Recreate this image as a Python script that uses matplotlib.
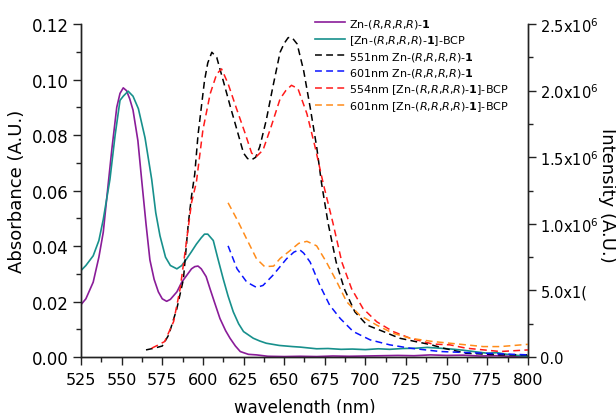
import numpy as np
import matplotlib
matplotlib.use("Agg")
import matplotlib.pyplot as plt
from matplotlib.ticker import MultipleLocator, FixedLocator, FixedFormatter

# absorbance, Zn-(R,R,R,R)-1
abs1_wl = [525, 528, 532.5, 536, 538.7, 541.8, 544, 547, 549, 551, 553, 555, 557, 560,
           562.3, 565, 567.4, 570, 572.6, 575, 577.7, 580, 584, 587, 590, 593, 595, 597,
           599, 602, 604.4, 607, 610.5, 614, 616.7, 620, 623, 628, 633, 640, 650, 660,
           670, 680, 690, 700, 710, 720, 730, 740, 750, 760, 770, 780, 790, 800]
abs1 = [0.0189, 0.021, 0.027, 0.036, 0.045, 0.0627, 0.075, 0.090, 0.095, 0.097, 0.096,
        0.093, 0.089, 0.078, 0.064, 0.048, 0.035, 0.028, 0.0235, 0.021, 0.0201, 0.0208,
        0.0235, 0.027, 0.0294, 0.0318, 0.0326, 0.0328, 0.0318, 0.029, 0.0246, 0.020,
        0.0139, 0.0095, 0.0068, 0.0040, 0.0020, 0.0010, 0.0008, 0.0003, 0.0002, 0.0003,
        0.0002, 0.0004, 0.0003, 0.0004, 0.0005, 0.0006, 0.0005, 0.0008, 0.0006, 0.0007,
        0.0004, 0.0005, 0.0003, 0.0004]

# absorbance, [Zn-(R,R,R,R)-1]-BCP
abs2_wl = [525, 528, 532.5, 536, 538.7, 542.8, 546, 549, 551, 554, 557, 560.3, 564.4,
           568.5, 571, 573.6, 577, 580, 584, 587, 590, 593, 596, 599, 601, 603, 606.4,
           609, 612.5, 615.5, 618.7, 622, 625, 631, 635, 639, 647, 655, 660, 665, 670,
           677, 685, 692, 700, 708, 715, 723, 731, 738, 746, 753, 760, 768, 775, 781,
           787, 794, 800]
abs2 = [0.0312, 0.0330, 0.0365, 0.042, 0.0496, 0.064, 0.080, 0.0925, 0.094, 0.0958,
        0.094, 0.0895, 0.079, 0.064, 0.052, 0.0437, 0.036, 0.033, 0.0318, 0.033, 0.0354,
        0.038, 0.0407, 0.043, 0.0443, 0.0443, 0.042, 0.036, 0.0282, 0.022, 0.0163, 0.012,
        0.0092, 0.0068, 0.0058, 0.0050, 0.0042, 0.0038, 0.0036, 0.0033, 0.0030, 0.0031,
        0.0028, 0.0029, 0.0027, 0.0030, 0.0028, 0.0031, 0.0032, 0.0035, 0.0032, 0.0029,
        0.0025, 0.0019, 0.0014, 0.0016, 0.0010, 0.0006, 0.0003]

# emission, intensity in units of 1e6
em551_wl = [565, 570, 575, 579, 584, 588, 591, 593, 595, 597, 601, 603, 605.5, 608.5,
            612.5, 617, 621, 625, 627.5, 630, 632.5, 635, 639, 643, 647.5, 650, 652.5,
            655, 658, 662, 666, 670, 673, 677, 682, 687, 693.5, 701, 711, 721, 731.5,
            740, 748, 762, 783, 800]
em551 = [0.054, 0.067, 0.083, 0.167, 0.365, 0.583, 1.000, 1.208, 1.375, 1.667, 2.075,
         2.208, 2.288, 2.250, 2.075, 1.875, 1.704, 1.531, 1.490, 1.481, 1.500, 1.579,
         1.779, 2.025, 2.288, 2.354, 2.398, 2.396, 2.350, 2.150, 1.875, 1.579, 1.306,
         1.008, 0.713, 0.513, 0.340, 0.240, 0.192, 0.142, 0.115, 0.094, 0.067, 0.029,
         0.017, 0.017]

em601_wl = [615.5, 621, 627, 633, 637, 643, 651.5, 656, 659.5, 662, 666, 672, 678,
            684.5, 692.5, 703, 715, 727.5, 746, 772.5, 800]
em601 = [0.835, 0.663, 0.563, 0.523, 0.538, 0.613, 0.738, 0.788, 0.806, 0.781, 0.713,
         0.538, 0.390, 0.290, 0.192, 0.129, 0.092, 0.067, 0.042, 0.029, 0.017]

em554b_wl = [568.5, 572, 576.5, 582, 586, 589, 593, 596, 600, 604.5, 608.5, 611.5,
             615.5, 621, 626, 630, 633, 637, 642, 647.5, 651, 654.5, 658.5, 664, 669,
             674, 680, 685.5, 691.5, 698.5, 707, 717, 727.5, 741.5, 752, 762, 783, 800]
em554b = [0.067, 0.088, 0.117, 0.267, 0.513, 0.785, 1.158, 1.313, 1.704, 1.977, 2.125,
          2.163, 2.052, 1.854, 1.679, 1.531, 1.506, 1.554, 1.730, 1.938, 2.000, 2.040,
          2.015, 1.827, 1.579, 1.306, 1.008, 0.713, 0.513, 0.365, 0.265, 0.192, 0.142,
          0.098, 0.092, 0.067, 0.042, 0.054]

em601b_wl = [615.5, 621, 627, 633, 638, 643.5, 647.5, 653.5, 659, 664, 670, 676, 682.5,
             688.5, 696.5, 707, 717, 727.5, 741.5, 762, 772.5, 783, 800]
em601b = [1.158, 1.033, 0.885, 0.738, 0.679, 0.683, 0.740, 0.798, 0.854, 0.869, 0.835,
          0.713, 0.563, 0.415, 0.315, 0.240, 0.179, 0.142, 0.117, 0.092, 0.079, 0.079,
          0.096]

labels = [r"Zn-($R$,$R$,$R$,$R$)-$\mathbf{1}$",
          r"[Zn-($R$,$R$,$R$,$R$)-$\mathbf{1}$]-BCP",
          r"551nm Zn-($R$,$R$,$R$,$R$)-$\mathbf{1}$",
          r"601nm Zn-($R$,$R$,$R$,$R$)-$\mathbf{1}$",
          r"554nm [Zn-($R$,$R$,$R$,$R$)-$\mathbf{1}$]-BCP",
          r"601nm [Zn-($R$,$R$,$R$,$R$)-$\mathbf{1}$]-BCP"]

plt.rcParams['mathtext.fontset'] = 'dejavusans'

fig = plt.figure(figsize=(6.16, 4.14), dpi=100)
ax = fig.add_axes([0.1315, 0.135, 0.7255, 0.8046])
ax2 = ax.twinx()

dash = (0, (4.5, 2.8))
h1, = ax.plot(abs1_wl, abs1, color='#8a1c99', lw=1.2, label=labels[0])
h2, = ax.plot(abs2_wl, abs2, color='#17908c', lw=1.2, label=labels[1])
h3, = ax2.plot(em551_wl, np.array(em551) * 1e6, color='black', lw=1.1, ls=dash, label=labels[2])
h4, = ax2.plot(em601_wl, np.array(em601) * 1e6, color='#0a14ff', lw=1.1, ls=dash, label=labels[3])
h5, = ax2.plot(em554b_wl, np.array(em554b) * 1e6, color='#ff1a1a', lw=1.1, ls=dash, label=labels[4])
h6, = ax2.plot(em601b_wl, np.array(em601b) * 1e6, color='#ff8c1a', lw=1.1, ls=dash, label=labels[5])

ax.set_xlim(525, 800)
ax.set_ylim(0, 0.12)
ax2.set_ylim(0, 2.5e6)

ax.xaxis.set_major_locator(MultipleLocator(25))
ax.xaxis.set_minor_locator(MultipleLocator(12.5))
ax.yaxis.set_major_locator(MultipleLocator(0.02))
ax.yaxis.set_minor_locator(MultipleLocator(0.01))
ax.yaxis.set_major_formatter(matplotlib.ticker.FormatStrFormatter('%.2f'))

r_ticks = [0, 0.5e6, 1.0e6, 1.5e6, 2.0e6, 2.5e6]
r_labels = ["0.0", "5.0x1(", r"1.0x10$^6$", r"1.5x10$^6$", r"2.0x10$^6$", r"2.5x10$^6$"]
ax2.yaxis.set_major_locator(FixedLocator(r_ticks))
ax2.yaxis.set_major_formatter(FixedFormatter(r_labels))
ax2.yaxis.set_minor_locator(MultipleLocator(0.25e6))

for a in (ax, ax2):
    a.spines['top'].set_visible(False)
    for s in a.spines.values():
        s.set_linewidth(1.0)
        s.set_color('#222222')
    a.tick_params(which='major', length=6, width=1.0, colors='#222222', labelcolor='black')
    a.tick_params(which='minor', length=3.5, width=1.0, colors='#222222')

ax.tick_params(axis='x', labelsize=11.5, pad=5)
ax.tick_params(axis='y', labelsize=12, pad=3)
ax2.tick_params(axis='y', labelsize=10.5, pad=3)

ax.set_xlabel("wavelength (nm)", fontsize=12, labelpad=8)
ax.set_ylabel("Absorbance (A.U.)", fontsize=13, labelpad=4)
ax2.set_ylabel("Intensity (A.U.)", fontsize=13, rotation=270, va='center')
ax2.yaxis.set_label_coords(1.178, 0.49)

leg = ax.legend(handles=[h1, h2, h3, h4, h5, h6], loc='upper left',
                bbox_to_anchor=(0.523, 1.022), frameon=False, fontsize=8,
                handlelength=2.7, handletextpad=0.35, labelspacing=0.28,
                borderpad=0, borderaxespad=0)

fig.savefig("out.png", dpi=100)
